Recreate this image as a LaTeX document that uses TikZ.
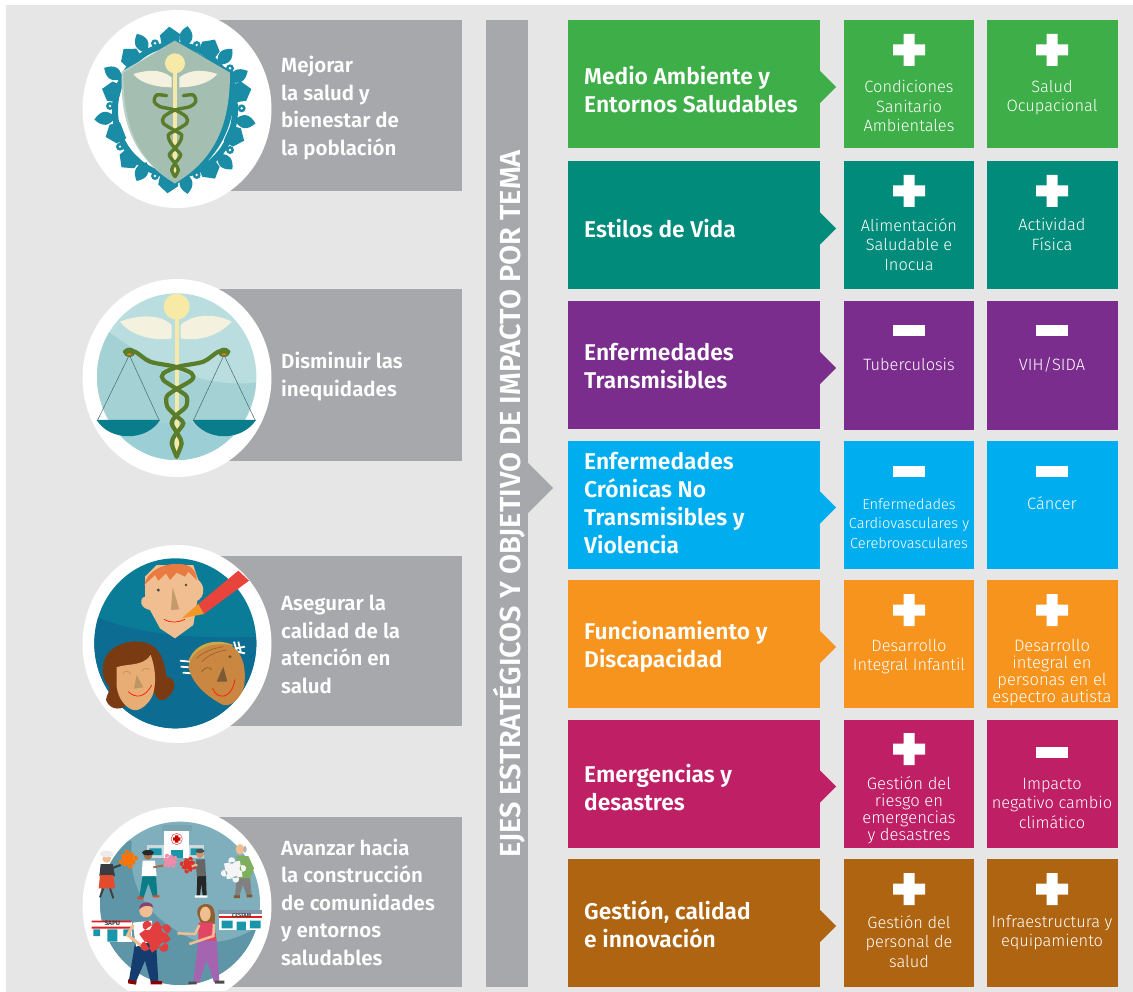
\documentclass[tikz,border=0pt]{standalone}
\usepackage{fontspec}
\setmainfont{Fira Sans}
\newfontfamily\headf{Fira Sans SemiBold}
\newfontfamily\lightf{Fira Sans Light}
\usetikzlibrary{calc,shapes.geometric}
\definecolor{bg}{HTML}{E6E6E6}
\definecolor{gbox}{HTML}{A7A8AB}
\definecolor{cgreen}{HTML}{3EAE49}
\definecolor{cteal}{HTML}{008B7A}
\definecolor{cpurple}{HTML}{7B2D8E}
\definecolor{cblue}{HTML}{00AEEF}
\definecolor{corange}{HTML}{F7941E}
\definecolor{cmag}{HTML}{BE1F65}
\definecolor{cbrown}{HTML}{AE6410}
\definecolor{snk}{HTML}{5A7D2C}
\definecolor{staff}{HTML}{F7E9A6}
\definecolor{wing}{HTML}{F4F1DE}
\definecolor{ring}{HTML}{1B8CA6}
\definecolor{skin}{HTML}{F0BE90}
\definecolor{shieldc}{HTML}{A4BEB2}
\definecolor{win}{HTML}{1996AA}
\definecolor{navy}{HTML}{143C6E}
\definecolor{pzred}{HTML}{E23E3E}
\tikzset{
  x=1pt,y=-1pt,
  mainbox/.style={draw=none,minimum width=252pt,minimum height=128pt,inner sep=0},
  subbox/.style={draw=none,minimum width=130.5pt,minimum height=128pt,inner sep=0},
  sidebox/.style={fill=gbox,draw=none},
  hd/.style={text=white,anchor=north west,inner sep=0,align=left,font=\headf\fontsize{22.8}{28}\selectfont,execute at begin node=\strut},
  lb/.style={text=white,anchor=north west,inner sep=0,align=left,font=\headf\fontsize{20.5}{27.5}\selectfont,execute at begin node=\strut},
  sm/.style={text=white,anchor=north,inner sep=0,align=center,font=\lightf\fontsize{16.4}{19.5}\selectfont,execute at begin node=\strut},
  smt/.style={sm,font=\lightf\fontsize{16.6}{17}\selectfont},
  smx/.style={sm,font=\lightf\fontsize{14.6}{19.5}\selectfont},
  disc/.style={ellipse,fill=white,minimum width=189pt,minimum height=198pt,inner sep=0},
}
\newcommand\mainrow[3]{%
  \node[mainbox,fill=#3] (#1) at (694,{#2+64}) {};
  \fill[#3] (820,{#2+51}) -- (836,{#2+67}) -- (820,{#2+83}) -- cycle;
}
\newcommand\cell[4]{\node[subbox,fill=#4] (#1) at (#2,{#3+64}) {};}
\newcommand\plusm[2]{\fill[white] ({#1-16},{#2-5.5}) rectangle ({#1+16},{#2+5.5}) ({#1-5.5},{#2-16}) rectangle ({#1+5.5},{#2+16});}
\newcommand\minusm[2]{\fill[white] ({#1-16},{#2-5.5}) rectangle ({#1+16},{#2+5.5});}
\newcommand\helix[2]{\draw[snk,line width=#1,line cap=round] plot[smooth] coordinates {#2};}
\newcommand\puzzle[5]{%
  \begin{scope}[shift={(#1,#2)},rotate=#5,scale=#3]
  \fill[#4] (-1,-1) rectangle (1,1) (0,-1.2) circle (.42) (1.2,0) circle (.42) (-1.2,0.2) circle (.42) (0.1,1.2) circle (.42);
  \end{scope}}
\begin{document}
\begin{tikzpicture}
\useasboundingbox (0,0) rectangle (1133,992);
\fill[white] (0,0) rectangle (1133,992);
\fill[bg] (6,5) rectangle (1133,992);
% side boxes
\node[sidebox,minimum width=262pt,minimum height=171pt,inner sep=0] (s1) at (331,105.5) {};
\node[sidebox,minimum width=262pt,minimum height=171pt,inner sep=0] (s2) at (331,375) {};
\node[sidebox,minimum width=262pt,minimum height=170pt,inner sep=0] (s3) at (331,640.5) {};
\node[sidebox,minimum width=262pt,minimum height=170pt,inner sep=0] (s4) at (331,902) {};
% circles
\node[disc] (c1) at (177,109) {};
\node[disc] (c2) at (177,378) {};
\node[disc] (c3) at (177,644) {};
\begin{scope}
\clip (0,0) rectangle (1133,990);
\node[disc] (c4) at (177,906) {};
\end{scope}
% ---------- icon 1
\begin{scope}[shift={(60,0)},scale=0.33333]
 \draw[ring,line width=6pt] (345,330) ellipse (180 and 196);
 \foreach \px/\py in {378/110,245/130,495/170,535/228,555/365,495/485,378/550,245/515,135/355,160/220}{
   \pgfmathsetmacro\ang{atan2(\py-330,\px-345)}
   \fill[ring,shift={(\px,\py)},rotate=-\ang] (-32,0) .. controls (-10,-26) and (10,-26) .. (32,0) .. controls (10,26) and (-10,26) .. (-32,0) -- cycle;}
 \foreach \px/\py in {330/110,210/170,450/145,155/275,545/275,525/410,450/510,165/400,205/480,325/550}{
   \pgfmathsetmacro\ang{atan2(\py-330,\px-345)}
   \fill[ring,shift={(\px,\py)},rotate=-\ang] (30,0) -- (6,-30) -- (-26,-26) -- (-26,26) -- (6,30) -- cycle;}
 \foreach \px/\py in {285/130,410/135,150/318,545/325,510/205,180/440,510/450,410/525,285/528}{
   \fill[ring] (\px,\py) circle (12);
   \fill[white] (\px,\py) circle (4);}
 \fill[ring] (345,124) -- (526,218) .. controls (530,340) and (505,470) .. (350,552) -- cycle;
 \fill[shieldc!70!white] (345,122) -- (185,215) .. controls (180,350) and (210,470) .. (345,550) -- cycle;
 \fill[shieldc] (345,122) -- (510,218) .. controls (510,350) and (480,470) .. (345,550) .. controls (215,470) and (190,350) .. (190,218) -- cycle;
 \fill[staff] (345,190) circle (30);
 \fill[staff] (338,190) rectangle (352,530);
 \fill[wing] (335,232) .. controls (300,205) and (260,210) .. (220,222) .. controls (240,250) and (290,262) .. (335,262) -- cycle;
 \fill[wing] (358,232) .. controls (395,205) and (435,210) .. (472,222) .. controls (450,250) and (400,262) .. (358,262) -- cycle;
 \helix{3.4pt}{(320,287) (290,285) (283,305) (300,320) (345,330) (378,350) (380,370) (345,392) (325,405) (330,425) (345,445) (362,465) (345,490) (335,510) (345,530)}
 \helix{3.4pt}{(370,287) (400,285) (407,305) (390,320) (345,330) (312,350) (310,370) (345,392) (365,405) (360,425) (345,445) (328,465) (345,490) (355,510) (345,530)}
\end{scope}
% ---------- icon 2
\begin{scope}[shift={(60,260)},scale=0.33333]
 \begin{scope}
  \clip (350,350) ellipse (239 and 250);
  \fill[color={rgb,255:red,186;green,222;blue,223}] (100,90) rectangle (600,620);
  \fill[color={rgb,255:red,164;green,210;blue,212}] (100,180) .. controls (200,260) and (400,400) .. (600,365) -- (600,620) -- (100,620) -- cycle;
  \fill[color={rgb,255:red,156;green,207;blue,213}] (100,500) .. controls (250,480) and (450,500) .. (600,470) -- (600,620) -- (100,620) -- cycle;
 \end{scope}
 \draw[color={rgb,255:red,70;green,105;blue,110},line width=.5pt] (208,285) -- (112,482) (208,285) -- (298,482) (492,285) -- (400,482) (492,285) -- (586,482);
 \fill[color={rgb,255:red,10;green,125;blue,140}] (110,480) .. controls (150,545) and (260,545) .. (300,480) -- cycle;
 \fill[color={rgb,255:red,10;green,125;blue,140}] (398,480) .. controls (440,545) and (545,545) .. (588,480) -- cycle;
 \fill[staff] (350,140) circle (39);
 \fill[staff] (344,160) rectangle (356,598);
 \fill[wing] (335,195) .. controls (300,160) and (230,165) .. (180,185) .. controls (210,225) and (280,245) .. (335,235) -- cycle;
 \fill[wing] (362,195) .. controls (400,160) and (470,160) .. (515,185) .. controls (480,225) and (420,245) .. (362,235) -- cycle;
 \helix{4.2pt}{(195,275) (225,275) (270,305) (345,320) (395,340) (395,360) (345,390) (320,410) (322,440) (345,465) (370,490) (345,525) (335,550) (350,590)}
 \helix{4.2pt}{(505,275) (475,275) (430,305) (355,320) (310,340) (310,360) (355,390) (380,410) (378,440) (350,465) (335,490) (355,525) (365,550) (350,590)}
 \fill[snk] (208,277) ellipse (18 and 14) (492,277) ellipse (18 and 14);
 \fill[orange!70!brown] (208,283) ellipse (7 and 3) (492,283) ellipse (7 and 3);
\end{scope}
% ---------- icon 3
\begin{scope}[shift={(60,530)},scale=0.33333]
 \begin{scope}
  \clip (346,340) ellipse (243 and 255);
  \fill[color={rgb,255:red,11;green,124;blue,152}] (90,80) rectangle (600,600);
  \fill[color={rgb,255:red,13;green,108;blue,146}] (90,250) .. controls (200,310) and (400,330) .. (600,320) -- (600,600) -- (90,600) -- cycle;
 \end{scope}
 \fill[skin] (255,140) -- (290,105) -- (400,105) -- (415,150) .. controls (440,170) and (430,205) .. (412,212) -- (400,285) -- (345,325) -- (300,295) -- (270,240) .. controls (240,235) and (235,205) .. (255,200) -- cycle;
 \fill[color={rgb,255:red,232;green,122;blue,66}] (253,165) .. controls (260,125) and (310,100) .. (350,102) .. controls (390,100) and (410,120) .. (410,150) -- (385,125) -- (375,140) -- (350,128) -- (330,150) -- (318,130) -- (295,152) -- (285,135) -- cycle;
 \fill[color={rgb,255:red,196;green,154;blue,108}] (338,172) -- (358,238) -- (333,240) -- cycle;
 \fill[black!70] (295,180) circle (5) (378,165) circle (4);
 \draw[red!80!orange,line width=.7pt] (312,268) .. controls (330,280) and (355,278) .. (375,268);
 \fill[color={rgb,255:red,232;green,68;blue,60}] (415,222) -- (535,122) -- (567,152) -- (432,252) -- cycle;
 \fill[color={rgb,255:red,245;green,150;blue,40}] (365,265) -- (415,222) -- (432,252) -- cycle;
 \fill[color={rgb,255:red,122;green,58;blue,18}] (130,400) .. controls (140,350) and (200,330) .. (240,335) .. controls (295,340) and (310,380) .. (320,440) .. controls (350,445) and (350,480) .. (325,500) .. controls (305,520) and (290,510) .. (285,490) -- (200,520) .. controls (195,540) and (150,545) .. (138,510) .. controls (140,490) and (150,490) .. (148,470) .. controls (130,450) and (125,430) .. (130,400) -- cycle;
 \fill[color={rgb,255:red,231;green,173;blue,116}] (170,412) .. controls (200,400) and (250,410) .. (272,375) .. controls (285,410) and (290,450) .. (280,490) .. controls (270,520) and (240,545) .. (220,540) .. controls (200,535) and (175,510) .. (170,470) -- cycle;
 \fill[color={rgb,255:red,190;green,150;blue,100}] (230,435) -- (250,472) -- (222,476) -- cycle;
 \draw[red!80!orange,line width=.7pt] (205,485) .. controls (225,505) and (255,505) .. (275,465);
 \draw[brown,line width=.4pt] (188,432) .. controls (195,420) and (205,420) .. (212,432) (245,425) .. controls (252,412) and (262,412) .. (268,420);
 \draw[white,line width=1.8pt] (360,392) -- (390,395) (362,410) -- (390,412) (368,428) -- (395,430) (522,335) -- (530,362) (535,335) -- (542,365) (555,350) -- (530,355) (555,370) -- (530,365);
 \fill[color={rgb,255:red,204;green,170;blue,70}] (385,395) .. controls (400,345) and (460,320) .. (520,345) -- (500,360) -- (420,380) -- cycle;
 \fill[color={rgb,255:red,201;green,135;blue,66}] (385,410) .. controls (395,360) and (450,335) .. (510,345) .. controls (550,365) and (560,420) .. (552,470) .. controls (540,510) and (510,530) .. (490,525) .. controls (440,500) and (395,460) .. (385,410) -- cycle;
 \draw[color={rgb,255:red,150;green,95;blue,40},line width=.6pt] (410,385) .. controls (430,365) and (460,355) .. (490,350) (425,395) .. controls (445,375) and (470,365) .. (500,360);
 \fill[color={rgb,255:red,125;green,90;blue,55}] (490,410) -- (502,455) -- (470,455) -- cycle;
 \draw[red!80!orange,line width=.7pt] (458,475) .. controls (470,510) and (515,510) .. (525,448);
 \draw[color={rgb,255:red,120;green,80;blue,40},line width=.5pt] (425,425) .. controls (435,410) and (450,410) .. (455,420);
 \fill[color={rgb,255:red,120;green,80;blue,40}] (510,380) circle (5);
\end{scope}
% ---------- icon 4
\begin{scope}[shift={(60,790)},scale=0.33333]
 \begin{scope}
  \clip (0,0) rectangle (720,600);
  \clip (360,340) ellipse (240 and 245);
  \fill[color={rgb,255:red,127;green,174;blue,189}] (100,90) rectangle (620,600);
  \fill[color={rgb,255:red,94;green,150;blue,168}] (120,180) .. controls (200,160) and (215,140) .. (215,160) .. controls (200,330) and (300,400) .. (400,450) .. controls (480,470) and (550,440) .. (610,400) -- (610,600) -- (100,600) -- cycle;
 \end{scope}
 \fill[color={rgb,255:red,205;green,217;blue,220}] (262,165) rectangle (432,205);
 \fill[win] (268,175) rectangle (305,195) (392,175) rectangle (428,195);
 \fill[white] (312,122) rectangle (388,205);
 \fill[color={rgb,255:red,120;green,165;blue,175}] (305,106) rectangle (395,122);
 \fill[win] (332,180) rectangle (368,205);
 \draw[red!70!gray,line width=.4pt] (350,147) circle (17);
 \fill[red!80!black] (345,136) rectangle (355,158) (339,142) rectangle (361,152);
 \draw[black!75,line width=2pt] (130,295) -- (120,322) (150,295) -- (160,325);
 \fill[black!75!cyan!60!black] (122,222) -- (158,222) -- (165,258) -- (118,258) -- cycle;
 \fill[color={rgb,255:red,226;green,76;blue,44}] (120,255) -- (160,255) -- (165,295) -- (116,295) -- cycle;
 \draw[black!75!cyan!60!black,line width=2pt] (155,235) -- (182,225);
 \fill[skin] (140,205) circle (13);
 \fill[white!85!gray] (140,192) ellipse (20 and 10);
 \puzzle{205}{208}{18}{orange!90!red}{10}
 \fill[color={rgb,255:red,10;green,125;blue,135}] (248,255) -- (288,255) -- (292,318) -- (278,318) -- (265,280) -- (250,325) -- (238,322) -- cycle;
 \fill[red!40!brown] (232,320) rectangle (250,328) (278,316) rectangle (298,322);
 \fill[white] (248,212) -- (285,212) -- (290,258) -- (245,258) -- cycle;
 \draw[color={rgb,255:red,160;green,110;blue,75},line width=2pt] (280,232) -- (318,225);
 \fill[color={rgb,255:red,160;green,110;blue,75}] (264,196) circle (13);
 \fill[black!85] (264,188) ellipse (18 and 8);
 \puzzle{330}{213}{15}{color={rgb,255:red,240;green,140;blue,170}}{30}
 \puzzle{385}{225}{16}{color={rgb,255:red,222;green,50;blue,40}}{-20}
 \fill[black!85] (412,255) -- (438,255) -- (440,318) -- (428,318) -- (424,280) -- (420,318) -- (410,318) -- cycle;
 \fill[white] (405,316) rectangle (425,323) (425,316) rectangle (442,323);
 \fill[black!60] (408,208) -- (435,208) -- (438,258) -- (410,258) -- cycle;
 \draw[skin,line width=2pt] (412,225) -- (395,228);
 \fill[color={rgb,255:red,200;green,150;blue,110}] (420,192) circle (12);
 \fill[black!70] (420,183) ellipse (14 and 6);
 \fill[gray] (530,262) -- (570,262) -- (575,318) -- (562,320) -- (548,285) -- (538,320) -- (525,318) -- cycle;
 \fill[brown!70!black] (522,316) rectangle (540,324) (560,314) rectangle (577,322);
 \fill[color={rgb,255:red,125;green,175;blue,95}] (530,198) -- (565,198) -- (582,235) -- (570,265) -- (530,265) -- cycle;
 \fill[skin] (540,178) ellipse (13 and 16);
 \fill[gray!60] (555,178) ellipse (5 and 10);
 \puzzle{520}{240}{24}{white!92!gray}{10}
 \fill[white] (95,392) rectangle (215,455);
 \fill[red!75!gray] (95,392) rectangle (215,397) (95,410) rectangle (215,416);
 \fill[win] (100,418) rectangle (120,438) (142,418) rectangle (172,455) (190,418) rectangle (212,438);
 \node[inner sep=0,font=\bfseries\fontsize{6.5}{6.5}\selectfont,text=black!75] (sapu) at (157,400) {SAPU};
 \fill[white] (478,362) rectangle (605,420);
 \fill[color={rgb,255:red,130;green,150;blue,170}] (475,360) rectangle (607,372);
 \fill[red!75!gray] (478,377) rectangle (605,384);
 \fill[win] (485,392) rectangle (518,415) (530,395) rectangle (558,420) (570,392) rectangle (602,415);
 \node[inner sep=0,font=\bfseries\fontsize{5.5}{5.5}\selectfont,text=black!75] (cesfam) at (545,377) {CESFAM};
 \fill[navy] (225,460) -- (288,455) -- (295,575) -- (272,575) -- (255,512) -- (228,575) -- (207,570) -- cycle;
 \fill[red!55!black] (204,568) -- (230,574) -- (228,584) -- (204,580) -- cycle (272,573) rectangle (306,583);
 \fill[white] (218,398) -- (275,392) -- (285,450) -- (228,470) -- cycle;
 \draw[skin,line width=3pt] (220,405) -- (203,435) -- (250,472);
 \fill[skin] (258,362) circle (20);
 \fill[color={rgb,255:red,135;green,65;blue,110}] (238,358) .. controls (235,335) and (275,328) .. (280,352) .. controls (265,345) and (250,345) .. (238,358) -- cycle;
 \puzzle{285}{440}{34}{pzred}{35}
 \fill[color={rgb,255:red,165;green,100;blue,175}] (415,450) -- (470,450) -- (478,575) -- (462,577) -- (440,510) -- (418,578) -- (400,575) -- cycle;
 \fill[black!70] (385,575) rectangle (410,583) (465,572) rectangle (493,581);
 \fill[brown!75!black] (412,372) .. controls (405,340) and (455,330) .. (462,360) .. controls (468,380) and (462,395) .. (465,405) -- (425,405) -- cycle;
 \fill[skin] (436,372) ellipse (16 and 22);
 \fill[color={rgb,255:red,226;green,70;blue,100}] (415,398) -- (462,398) -- (470,452) -- (415,452) -- cycle;
 \draw[skin,line width=2.5pt] (418,405) -- (405,432) -- (352,430) (462,402) -- (460,438) -- (388,462);
\end{scope}
% grey vertical bar with pointer
\node[sidebox,minimum width=42pt,minimum height=967pt,inner sep=0] (bar) at (507,503.5) {};
\fill[gbox] (528,463) -- (553,488) -- (528,513) -- cycle;
\node[rotate=90,text=white,inner sep=0,font=\headf\fontsize{29}{28}\selectfont] (bart) at (509,504) {EJES ESTRATÉGICOS Y OBJETIVO DE IMPACTO POR TEMA};
% left labels
\node[lb] (l1) at (281,56) {Mejorar\\la salud y\\bienestar de\\la población};
\node[lb] (l2) at (281,352) {Disminuir las\\inequidades};
\node[lb] (l3) at (281,595) {Asegurar la\\calidad de la\\atención en\\salud};
\node[lb] (l4) at (281,838.5) {Avanzar hacia\\la construcción\\de comunidades\\y entornos\\saludables};
% rows
\mainrow{m1}{20}{cgreen}\cell{a1}{909}{20}{cgreen}\cell{b1}{1052.5}{20}{cgreen}
\mainrow{m2}{161.5}{cteal}\cell{a2}{909}{161.5}{cteal}\cell{b2}{1052.5}{161.5}{cteal}
\mainrow{m3}{301}{cpurple}\cell{a3}{909}{301.5}{cpurple}\cell{b3}{1052.5}{301.5}{cpurple}
\mainrow{m4}{440.5}{cblue}\cell{a4}{909}{441}{cblue}\cell{b4}{1052.5}{441}{cblue}
\mainrow{m5}{580}{corange}\cell{a5}{909}{580}{corange}\cell{b5}{1052.5}{580}{corange}
\mainrow{m6}{719.5}{cmag}\cell{a6}{909}{719.5}{cmag}\cell{b6}{1052.5}{719.5}{cmag}
\mainrow{m7}{859}{cbrown}\cell{a7}{909}{859}{cbrown}\cell{b7}{1052.5}{859}{cbrown}
% heading texts
\node[hd] (h1) at (584,66) {Medio Ambiente y\\Entornos Saludables};
\node[hd] (h2) at (584,218) {Estilos de Vida};
\node[hd] (h3) at (584,343) {Enfermedades\\Transmisibles};
\node[hd] (h4) at (584,452) {Enfermedades\\Crónicas No\\Transmisibles y\\Violencia};
\node[hd] (h5) at (584,621) {Funcionamiento y\\Discapacidad};
\node[hd] (h6) at (584,764) {Emergencias y\\desastres};
\node[hd] (h7) at (584,900) {Gestión, calidad\\e innovación};
% signs
\plusm{909}{50}\plusm{1052}{50}
\plusm{909}{191}\plusm{1052}{191}
\minusm{909}{331}\minusm{1052}{331}
\minusm{909}{471}\minusm{1052}{471}
\plusm{909}{610}\plusm{1052}{610}
\plusm{909}{749}\minusm{1052}{752}
\plusm{909}{889}\plusm{1052}{889}
% small texts
\node[sm] (t1a) at (909,80) {Condiciones\\Sanitario\\Ambientales};
\node[sm] (t1b) at (1052,80) {Salud\\Ocupacional};
\node[sm] (t2a) at (909,218) {Alimentación\\Saludable e\\Inocua};
\node[sm] (t2b) at (1052,218) {Actividad\\Física};
\node[sm] (t3a) at (909,357) {Tuberculosis};
\node[sm] (t3b) at (1052,357) {VIH/SIDA};
\node[smx] (t4a) at (909,498) {Enfermedades\\Cardiovasculares y\\Cerebrovasculares};
\node[sm] (t4b) at (1052,496) {Cáncer};
\node[sm] (t5a) at (909,639) {Desarrollo\\Integral Infantil};
\node[smt] (t5b) at (1052,639) {Desarrollo\\integral en\\personas en el\\espectro autista};
\node[smt] (t6a) at (909,776) {Gestión del\\riesgo en\\emergencias\\y desastres};
\node[sm] (t6b) at (1052,778) {Impacto\\negativo cambio\\climático};
\node[sm] (t7a) at (909,915) {Gestión del\\personal de\\salud};
\node[sm] (t7b) at (1052,915) {Infraestructura y\\equipamiento};
\end{tikzpicture}
\end{document}
